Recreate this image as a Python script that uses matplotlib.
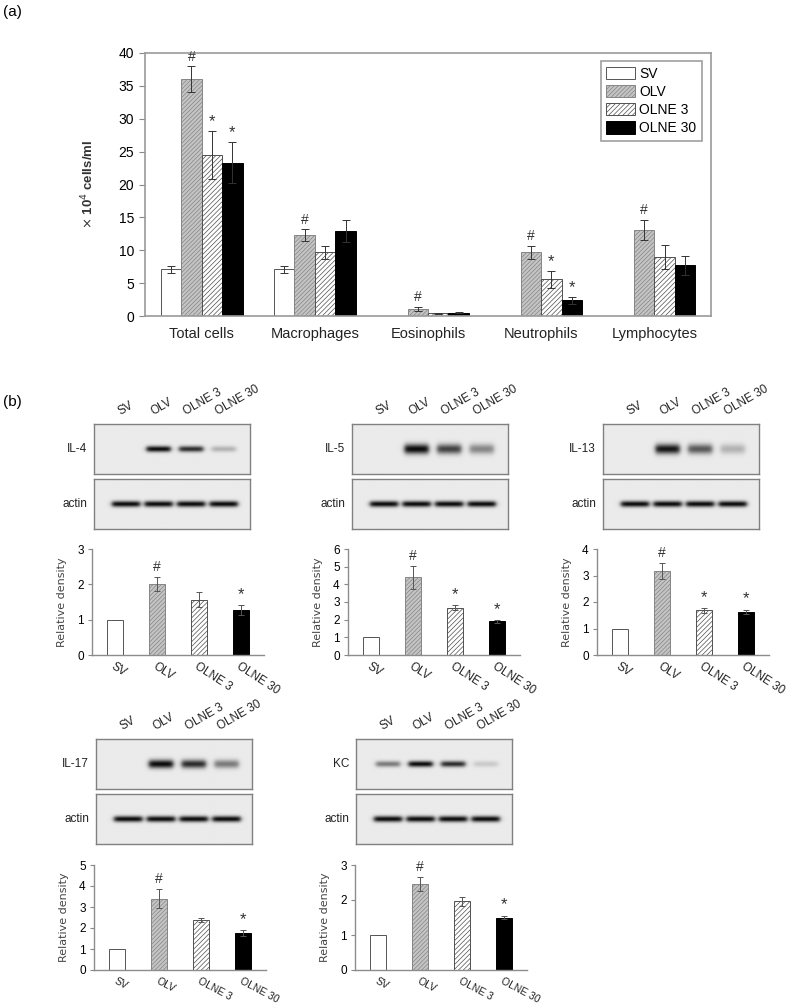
import matplotlib
matplotlib.use("Agg")
import matplotlib.pyplot as plt
import numpy as np
from matplotlib.colors import LinearSegmentedColormap
from matplotlib.transforms import blended_transform_factory

plt.rcParams['font.family'] = ['Liberation Sans', 'DejaVu Sans']
plt.rcParams['hatch.linewidth'] = 0.5

# ---- panel (a) data: BAL cell counts (x10^4 cells/ml) ----
cell_types = ["Total cells", "Macrophages", "Eosinophils", "Neutrophils", "Lymphocytes"]
groups = ["SV", "OLV", "OLNE 3", "OLNE 30"]
sv_cells = [7.1, 7.1, np.nan, np.nan, np.nan]
olv_cells = [36.0, 12.3, 1.1, 9.7, 13.1]
olne3_cells = [24.5, 9.7, 0.4, 5.6, 9.0]
olne30_cells = [23.3, 12.9, 0.5, 2.4, 7.7]
sv_err = [0.5, 0.5, np.nan, np.nan, np.nan]
olv_err = [2.0, 0.9, 0.3, 1.0, 1.5]
olne3_err = [3.6, 1.0, 0.1, 1.3, 1.8]
olne30_err = [3.1, 1.7, 0.1, 0.5, 1.4]
# significance marks per group (index into cell_types)
olv_hash = [0, 1, 2, 3, 4]
olne3_star = [0, 3]
olne30_star = [0, 3]

# ---- panel (b) data: relative band density ----
proteins = ["IL-4", "IL-5", "IL-13", "IL-17", "KC"]
density_top = [3, 6, 4, 5, 3]
il4_density = [1.0, 2.0, 1.57, 1.27]
il5_density = [1.0, 4.4, 2.68, 1.9]
il13_density = [1.0, 3.17, 1.68, 1.63]
il17_density = [1.0, 3.4, 2.38, 1.75]
kc_density = [1.0, 2.45, 1.97, 1.5]
il4_err = [0, 0.2, 0.22, 0.15]
il5_err = [0, 0.65, 0.15, 0.08]
il13_err = [0, 0.3, 0.08, 0.08]
il17_err = [0, 0.45, 0.08, 0.15]
kc_err = [0, 0.2, 0.13, 0.05]
il4_marks = ["", "#", "", "*"]
il5_marks = ["", "#", "*", "*"]
il13_marks = ["", "#", "*", "*"]
il17_marks = ["", "#", "", "*"]
kc_marks = ["", "#", "", "*"]
# western blot band intensities (0 = none, 1 = saturated)
il4_band = [0.0, 1.0, 0.85, 0.25]
il5_band = [0.0, 1.0, 0.75, 0.45]
il13_band = [0.0, 0.95, 0.65, 0.25]
il17_band = [0.0, 1.0, 0.85, 0.5]
kc_band = [0.5, 1.0, 0.85, 0.15]
actin_band = [1.0, 1.0, 1.0, 1.0]

W, H = 787, 1006
fig = plt.figure(figsize=(W / 100, H / 100), dpi=100)


def px_axes(x0, y0, x1, y1):
    return fig.add_axes([x0 / W, 1 - y1 / H, (x1 - x0) / W, (y1 - y0) / H])


bar_face = ["white", "#c4c4c4", "white", "black"]
bar_hatch = [None, "////////", "///////", None]
bar_edge = ["#555555", "#858585", "#505050", "black"]

# ================= panel (a) =================
ax = px_axes(145, 53, 711, 316)
x = np.arange(len(cell_types))
bw = 0.181
series = [sv_cells, olv_cells, olne3_cells, olne30_cells]
errs = [sv_err, olv_err, olne3_err, olne30_err]
for k in range(4):
    xs = x + (k - 1.5) * bw
    ax.bar(xs, series[k], bw, color=bar_face[k], hatch=bar_hatch[k],
           edgecolor=bar_edge[k], linewidth=0.7, label=groups[k], zorder=2)
    ax.errorbar(xs, series[k], yerr=errs[k], fmt="none", ecolor="#333333",
                elinewidth=0.7, capsize=3, capthick=0.7, zorder=3)
for i in olv_hash:
    ax.text(x[i] - 0.5 * bw, olv_cells[i] + olv_err[i] + 0.4, "#", ha="center",
            va="bottom", fontsize=10, color="#333333")
for i in olne3_star:
    ax.text(x[i] + 0.5 * bw, olne3_cells[i] + olne3_err[i] + 0.3, "*", ha="center",
            va="bottom", fontsize=12, color="#333333")
for i in olne30_star:
    ax.text(x[i] + 1.5 * bw, olne30_cells[i] + olne30_err[i] + 0.3, "*", ha="center",
            va="bottom", fontsize=12, color="#333333")
ax.set_xlim(-0.5, 4.5)
ax.set_ylim(0, 40)
ax.set_yticks(range(0, 41, 5))
ax.set_xticks(x)
ax.set_xticklabels(cell_types, fontsize=10.5, color="#222222")
ax.tick_params(axis="x", length=0, pad=8)
ax.tick_params(axis="y", length=4, color="#888888", labelsize=10, pad=4)
for s in ax.spines.values():
    s.set_color("#9a9a9a")
    s.set_linewidth(1.2)
ax.set_ylabel(r"$\times$ 10$^4$ cells/ml", fontsize=9.5, fontweight="bold",
              color="#333333", labelpad=16)
leg = ax.legend(loc="upper right", bbox_to_anchor=(0.9965, 0.996), fontsize=10,
                frameon=True, fancybox=False, edgecolor="#888888",
                handlelength=2.1, handleheight=1.0, labelspacing=0.3,
                handletextpad=0.3, borderpad=0.4)
leg.get_frame().set_linewidth(1.2)
fig.text(3 / W, 1 - 12 / H, "(a)", fontsize=11, va="center")
fig.text(3 / W, 1 - 402 / H, "(b)", fontsize=11, va="center")

# ================= panel (b) =================
blot_cmap = LinearSegmentedColormap.from_list("blot", ["#ebebeb", "#0a0a0a"])
lanes = np.arange(4)


def draw_blot(box, intens, label, thick, half_w, lane_labels=False):
    bx = px_axes(*box)
    xl = (-0.98, 3.8)
    gx = np.linspace(xl[0], xl[1], 400)
    gy = np.linspace(-1, 1, 120)
    XX, YY = np.meshgrid(gx, gy)
    img = np.zeros_like(XX)
    for i, a in enumerate(intens):
        prof = 1 / (1 + np.exp((np.abs(XX - i) - half_w) / 0.04))
        img += a * prof * np.exp(-(YY / thick) ** 2)
    bx.imshow(np.clip(img, 0, 1), extent=(xl[0], xl[1], -1, 1), cmap=blot_cmap,
              vmin=0, vmax=1, aspect="auto", interpolation="bilinear")
    bx.set_xlim(*xl)
    bx.set_ylim(-1, 1)
    bx.set_xticks([])
    bx.set_yticks([])
    for s in bx.spines.values():
        s.set_color("#808080")
        s.set_linewidth(1)
    bx.text(-0.045, 0.5, label, transform=bx.transAxes, ha="right", va="center",
            fontsize=8.5, color="#222222")
    if lane_labels:
        tr = blended_transform_factory(bx.transData, bx.transAxes)
        for i, g in enumerate(groups):
            bx.text(i - 0.12, 1.12, g, transform=tr, rotation=30, ha="left",
                    va="bottom", rotation_mode="anchor", fontsize=8.5,
                    color="#222222")


def draw_density(box, vals, err, marks, top, lab_size, lab_rot):
    dx = px_axes(*box)
    for k in range(4):
        dx.bar(lanes[k], vals[k], 0.4, color=bar_face[k], hatch=bar_hatch[k],
               edgecolor=bar_edge[k], linewidth=0.7, zorder=2)
    dx.errorbar(lanes, vals, yerr=err, fmt="none", ecolor="#555555",
                elinewidth=0.7, capsize=2.5, capthick=0.7, zorder=3)
    for k in range(4):
        if marks[k]:
            dx.text(lanes[k], vals[k] + err[k] + top * 0.03, marks[k], ha="center",
                    va="bottom", fontsize=10 if marks[k] == "#" else 12,
                    color="#333333")
    dx.set_xlim(-0.55, 3.55)
    dx.set_ylim(0, top)
    dx.set_yticks(range(top + 1))
    dx.set_xticks(lanes)
    dx.set_xticklabels(groups, rotation=lab_rot, ha="left", va="top",
                       rotation_mode="anchor", fontsize=lab_size, color="#222222")
    dx.tick_params(axis="x", length=0, pad=4)
    dx.tick_params(axis="y", length=3, color="#888888", labelsize=8.5, pad=3)
    for side in ["top", "right"]:
        dx.spines[side].set_visible(False)
    for side in ["left", "bottom"]:
        dx.spines[side].set_color("#8c8c8c")
        dx.spines[side].set_linewidth(1)
    dx.set_ylabel("Relative density", family="DejaVu Sans", fontsize=8,
                  color="#444444", labelpad=7)


band_sets = [il4_band, il5_band, il13_band, il17_band, kc_band]
band_thick = [0.12, 0.2, 0.2, 0.17, 0.12]
dens_sets = [il4_density, il5_density, il13_density, il17_density, kc_density]
err_sets = [il4_err, il5_err, il13_err, il17_err, kc_err]
mark_sets = [il4_marks, il5_marks, il13_marks, il17_marks, kc_marks]

blot_x = [94, 352, 603, 96, 356]
blot_y = [424, 424, 424, 739, 739]
chart_x = [92, 348, 597, 94, 355]
chart_y = [549, 549, 549, 865, 865]
chart_bottom = [655, 655, 655, 970, 970]
# bottom row labels slightly smaller/flatter so they stay inside the figure
label_size = [8.5, 8.5, 8.5, 7.5, 7.5]
label_rot = [-33, -33, -33, -28, -28]

for j in range(5):
    x0, y0 = blot_x[j], blot_y[j]
    draw_blot((x0, y0, x0 + 156, y0 + 50), band_sets[j], proteins[j],
              band_thick[j], 0.37, lane_labels=True)
    draw_blot((x0, y0 + 55, x0 + 156, y0 + 105), actin_band, "actin", 0.12, 0.43)
    draw_density((chart_x[j], chart_y[j], chart_x[j] + 172, chart_bottom[j]),
                 dens_sets[j], err_sets[j], mark_sets[j], density_top[j],
                 label_size[j], label_rot[j])

fig.savefig("out.png", dpi=100)
